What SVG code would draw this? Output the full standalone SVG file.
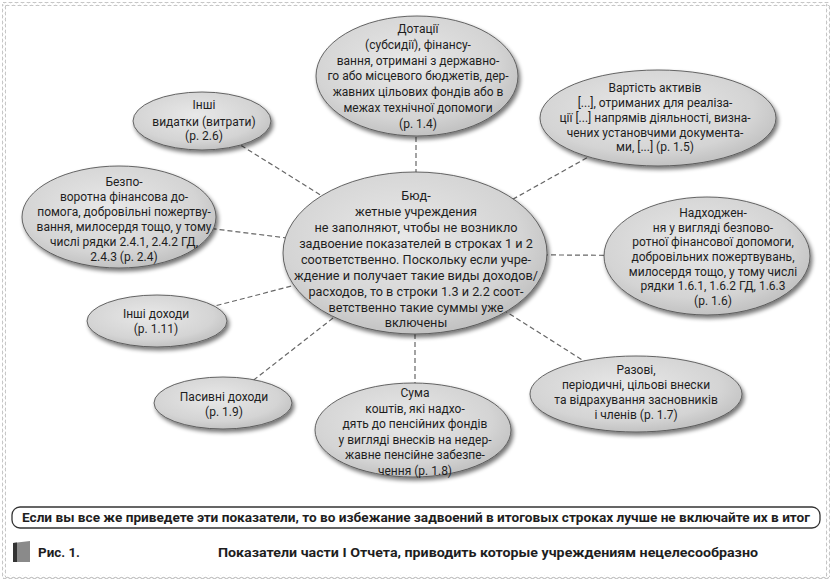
<svg xmlns="http://www.w3.org/2000/svg" width="832" height="581" viewBox="0 0 832 581">
<defs>
<radialGradient id="g" cx="45%" cy="40%" r="65%">
<stop offset="0" stop-color="#e8e8e8"/>
<stop offset="0.7" stop-color="#d4d4d4"/>
<stop offset="1" stop-color="#bcbcbc"/>
</radialGradient>
<filter id="sh" x="-10%" y="-10%" width="125%" height="135%">
<feGaussianBlur in="SourceAlpha" stdDeviation="2"/>
<feOffset dx="2" dy="3" result="b"/>
<feComponentTransfer><feFuncA type="linear" slope="0.55"/></feComponentTransfer>
<feMerge><feMergeNode/><feMergeNode in="SourceGraphic"/></feMerge>
</filter>
<pattern id="wh" width="6" height="4" patternUnits="userSpaceOnUse">
<path d="M0,2 Q1.5,0.6 3,2 T6,2" fill="none" stroke="#9a9a9a" stroke-width="0.8"/>
</pattern>
<pattern id="wv" width="4" height="6" patternUnits="userSpaceOnUse">
<path d="M2,0 Q0.6,1.5 2,3 T2,6" fill="none" stroke="#9a9a9a" stroke-width="0.8"/>
</pattern>
</defs>
<style>
.n ellipse{fill:url(#g);stroke:#555;stroke-width:0.9;filter:url(#sh)}
.t{font-family:Roboto,"Noto Sans",sans-serif;font-size:12px;fill:#1e1e1e;text-anchor:middle}
.c{font-size:12.7px}
.b{font-family:Roboto,"Noto Sans",sans-serif;font-weight:bold;font-size:13px;fill:#1e1e1e}
#connectors line{stroke:#666;stroke-width:1.2;stroke-dasharray:5 3}
</style>
<rect width="832" height="581" fill="#fff"/>
<g id="frame">
<rect x="3" y="2" width="826" height="4" fill="url(#wh)"/>
<rect x="3" y="575" width="826" height="4" fill="url(#wh)"/>
<rect x="2" y="4" width="4" height="573" fill="url(#wv)"/>
<rect x="826" y="4" width="4" height="573" fill="url(#wv)"/>
</g>
<g id="connectors">
<line x1="416" y1="254" x2="416" y2="76"/>
<line x1="415" y1="254" x2="658" y2="118"/>
<line x1="415" y1="254" x2="202" y2="121"/>
<line x1="415" y1="254" x2="119" y2="217"/>
<line x1="415" y1="254" x2="707" y2="256"/>
<line x1="415" y1="254" x2="157" y2="321"/>
<line x1="415" y1="254" x2="636" y2="394"/>
<line x1="415" y1="254" x2="223" y2="404"/>
<line x1="415" y1="254" x2="415" y2="430"/>
</g>
<g id="n1" class="n"><ellipse cx="417" cy="76" rx="101" ry="60"/>
<text class="t"><tspan x="418" y="33">Дотації</tspan><tspan x="418" y="48.5">(субсидії), фінансу-</tspan><tspan x="418" y="64.5">вання, отримані з державно-</tspan><tspan x="418" y="80">го або місцевого бюджетів, дер-</tspan><tspan x="418" y="96">жавних цільових фондів або в</tspan><tspan x="418" y="112">межах технічної допомоги</tspan><tspan x="418" y="127.5">(р. 1.4)</tspan></text></g>
<g id="n2" class="n"><ellipse cx="658" cy="118" rx="118" ry="48"/>
<text class="t"><tspan x="655" y="92">Вартість активів</tspan><tspan x="655" y="107">[...], отриманих для реаліза-</tspan><tspan x="655" y="122">ції [...] напрямів діяльності, визна-</tspan><tspan x="655" y="136.5">чених установчими документа-</tspan><tspan x="655" y="151">ми, [...] (р. 1.5)</tspan></text></g>
<g id="n3" class="n"><ellipse cx="202" cy="121" rx="69" ry="29"/>
<text class="t"><tspan x="204" y="109">Інші</tspan><tspan x="204" y="125.5">видатки (витрати)</tspan><tspan x="204" y="140">(р. 2.6)</tspan></text></g>
<g id="n4" class="n"><ellipse cx="119" cy="217" rx="97" ry="51"/>
<text class="t"><tspan x="124" y="186">Безпо-</tspan><tspan x="124" y="201">воротна фінансова до-</tspan><tspan x="124" y="216">помога, добровільні пожертву-</tspan><tspan x="124" y="231">вання, милосердя тощо, у тому</tspan><tspan x="124" y="245.5">числі рядки 2.4.1, 2.4.2 ГД,</tspan><tspan x="124" y="260.5">2.4.3 (р. 2.4)</tspan></text></g>
<g id="n5" class="n"><ellipse cx="415" cy="253" rx="132" ry="81"/>
<text class="t c"><tspan x="416" y="200">Бюд-</tspan><tspan x="416" y="216">жетные учреждения</tspan><tspan x="416" y="232">не заполняют, чтобы не возникло</tspan><tspan x="416" y="248">задвоение показателей в строках 1 и 2</tspan><tspan x="416" y="264">соответственно. Поскольку если учре-</tspan><tspan x="416" y="280">ждение и получает такие виды доходов/</tspan><tspan x="416" y="296">расходов, то в строки 1.3 и 2.2 соот-</tspan><tspan x="416" y="312">ветственно такие суммы уже</tspan><tspan x="416" y="327">включены</tspan></text></g>
<g id="n6" class="n"><ellipse cx="707" cy="256" rx="103" ry="59"/>
<text class="t"><tspan x="713" y="217">Надходжен-</tspan><tspan x="713" y="231.5">ня у вигляді безпово-</tspan><tspan x="713" y="246">ротної фінансової допомоги,</tspan><tspan x="713" y="261">добровільних пожертвувань,</tspan><tspan x="713" y="275.5">милосердя тощо, у тому числі</tspan><tspan x="713" y="290">рядки 1.6.1, 1.6.2 ГД, 1.6.3</tspan><tspan x="713" y="305">(р. 1.6)</tspan></text></g>
<g id="n7" class="n"><ellipse cx="157" cy="321" rx="70" ry="26"/>
<text class="t"><tspan x="156" y="318">Інші доходи</tspan><tspan x="156" y="333">(р. 1.11)</tspan></text></g>
<g id="n8" class="n"><ellipse cx="636" cy="394" rx="106" ry="38"/>
<text class="t"><tspan x="636" y="374">Разові,</tspan><tspan x="636" y="389">періодичні, цільові внески</tspan><tspan x="636" y="404">та відрахування засновників</tspan><tspan x="636" y="419">і членів (р. 1.7)</tspan></text></g>
<g id="n9" class="n"><ellipse cx="223" cy="403" rx="69" ry="26"/>
<text class="t"><tspan x="224" y="401">Пасивні доходи</tspan><tspan x="224" y="416">(р. 1.9)</tspan></text></g>
<g id="n10" class="n"><ellipse cx="413" cy="430" rx="98" ry="47"/>
<text class="t"><tspan x="415" y="397">Сума</tspan><tspan x="415" y="412.5">коштів, які надхо-</tspan><tspan x="415" y="428">дять до пенсійних фондів</tspan><tspan x="415" y="443.5">у вигляді внесків на недер-</tspan><tspan x="415" y="459">жавне пенсійне забезпе-</tspan><tspan x="415" y="474.5">чення (р. 1.8)</tspan></text></g>
<g id="note">
<rect x="12" y="507" width="808" height="21" rx="8" fill="#fff" stroke="#333" stroke-width="1.3"/>
<text class="b" x="22" y="522" textLength="788" lengthAdjust="spacingAndGlyphs">Если вы все же приведете эти показатели, то во избежание задвоений в итоговых строках лучше не включайте их в итог</text>
</g>
<g id="caption">
<polygon points="13,543 30,541 30,562 13,562" fill="#8a8a8a"/>
<polygon points="13,543 17,542.5 17,562 13,562" fill="#333"/>
<text class="b" x="38" y="557" textLength="42" lengthAdjust="spacingAndGlyphs">Рис. 1.</text>
<text class="b" x="218" y="557" textLength="540" lengthAdjust="spacingAndGlyphs">Показатели части I Отчета, приводить которые учреждениям нецелесообразно</text>
</g>
</svg>
